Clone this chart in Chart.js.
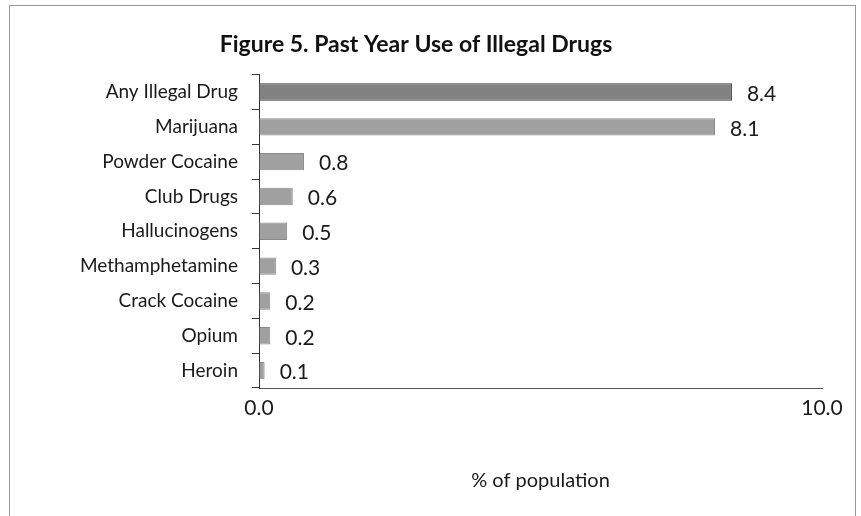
<!DOCTYPE html>
<html>
<head>
<meta charset="utf-8">
<script src="https://cdn.jsdelivr.net/npm/chart.js@4"></script>
<style>
    body { margin: 0; background: #fff; }
    #wrap { position: relative; width: 861px; height: 516px; }
    #frame { position: absolute; left: 9px; top: 5px; width: 845px; height: 530px; border: 1px solid #9a9a9a; }
    canvas { position: absolute; left: 0; top: 0; }
</style>
</head>
<body>
<div id="wrap">
    <div id="frame"></div>
    <canvas id="chart" width="861" height="516"></canvas>
</div>
<script>
const categories = ["Any Illegal Drug", "Marijuana", "Powder Cocaine", "Club Drugs", "Hallucinogens", "Methamphetamine", "Crack Cocaine", "Opium", "Heroin"];
const values = [8.4, 8.1, 0.8, 0.6, 0.5, 0.3, 0.2, 0.2, 0.1];
const xTicks = [0, 10];

const font = "Lato";

// value labels to the right of each bar
const barLabels = {
    id: "barLabels",
    afterDatasetsDraw(chart) {
        const ctx = chart.ctx;
        const meta = chart.getDatasetMeta(0);
        ctx.save();
        ctx.font = "21px " + font;
        ctx.fillStyle = "#1a1a1a";
        ctx.textBaseline = "middle";
        meta.data.forEach((bar, i) => {
            ctx.fillText(values[i].toFixed(1), bar.x + 15, bar.y + 2);
        });
        ctx.restore();
    }
};

new Chart(document.getElementById("chart"), {
    type: "bar",
    data: {
        labels: categories,
        datasets: [{
            data: values,
            backgroundColor: values.map((v, i) => i === 0 ? "#828282" : "#a0a0a0"),
            borderColor: values.map((v, i) => i === 0 ? "#333" : "#8a8a8a"),
            borderWidth: 1,
            categoryPercentage: 0.5,
            barPercentage: 1
        }]
    },
    options: {
        indexAxis: "y",
        responsive: false,
        animation: false,
        layout: { padding: { left: 10, right: 39, top: 0, bottom: 19 } },
        plugins: {
            legend: { display: false },
            tooltip: { enabled: false },
            title: {
                display: true,
                text: "Figure 5. Past Year Use of Illegal Drugs",
                color: "#111",
                font: { family: font, size: 23, weight: "bold" },
                padding: { top: 31, bottom: 16 }
            }
        },
        scales: {
            x: {
                min: 0,
                max: 10,
                afterBuildTicks(scale) { scale.ticks = xTicks.map(v => ({ value: v })); },
                afterFit(scale) { scale.height = 109; },
                grid: { drawOnChartArea: false, drawTicks: false },
                border: { color: "#555" },
                ticks: {
                    padding: 8,
                    color: "#1a1a1a",
                    font: { family: font, size: 21 },
                    callback: v => v.toFixed(1)
                },
                title: {
                    display: true,
                    text: "% of population",
                    color: "#1a1a1a",
                    font: { family: font, size: 20 }
                }
            },
            y: {
                afterFit(scale) { scale.width = 249; },
                grid: { drawOnChartArea: false, tickLength: 7, color: "#333" },
                border: { color: "#333" },
                ticks: {
                    padding: 14,
                    color: "#1a1a1a",
                    font: { family: font, size: 19 }
                }
            }
        }
    },
    plugins: [barLabels]
});
</script>
</body>
</html>
